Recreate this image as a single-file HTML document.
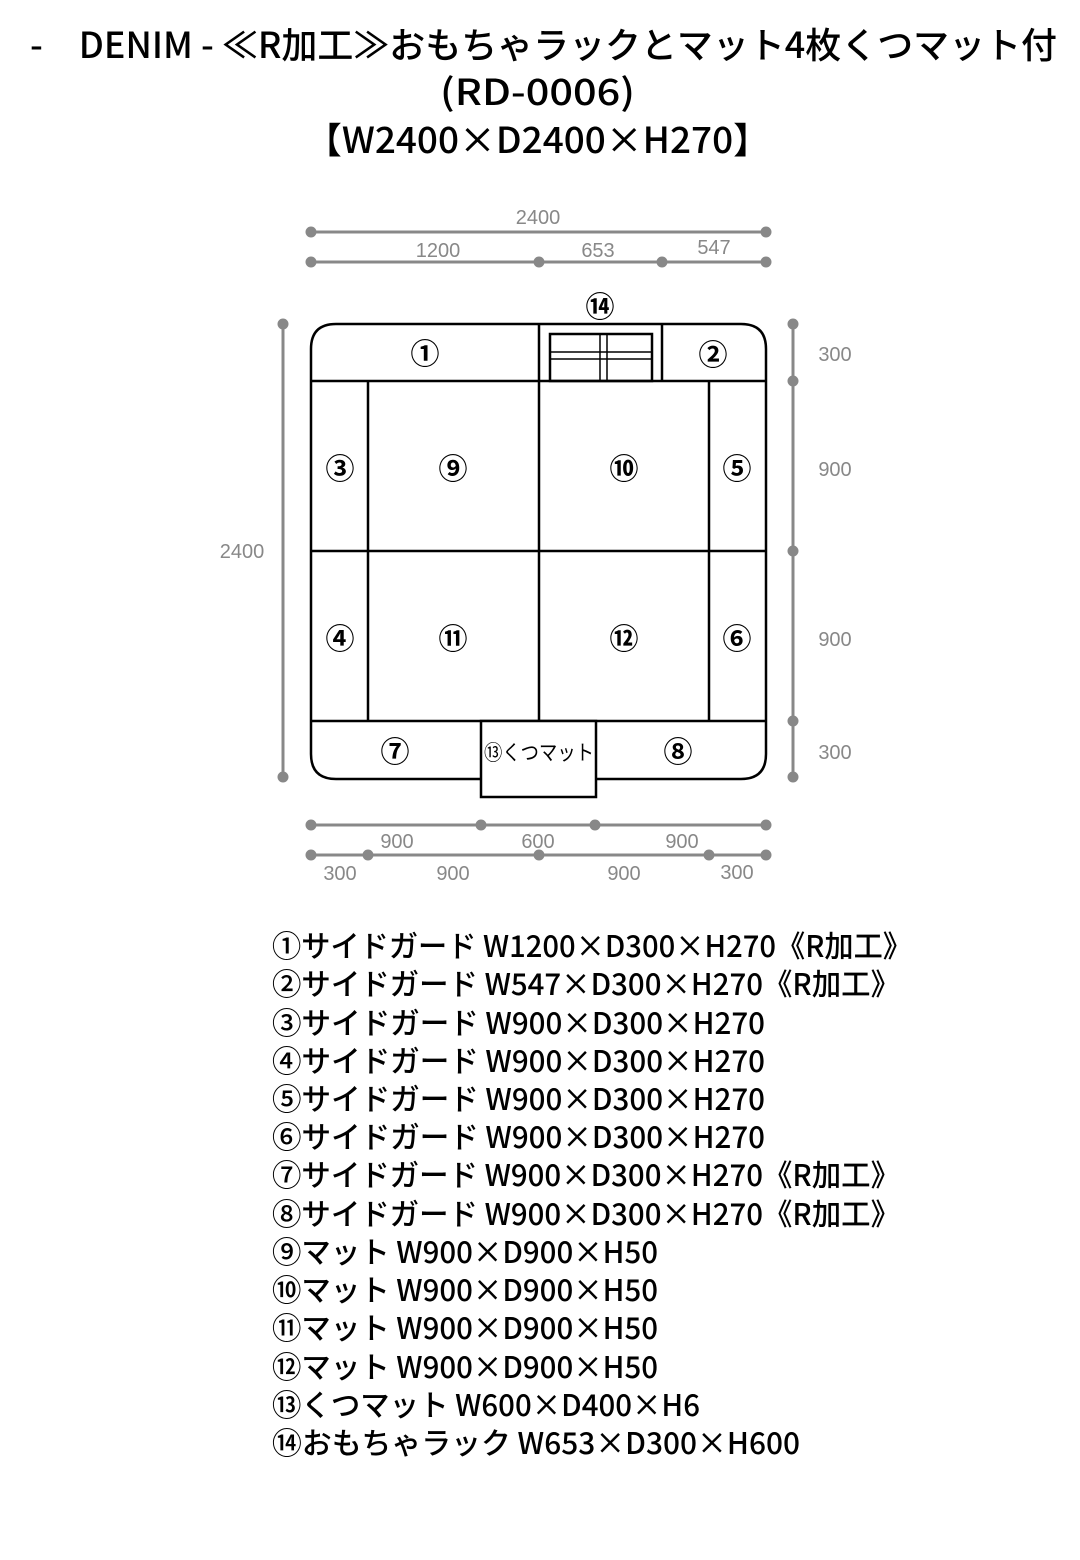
<!DOCTYPE html>
<html><head><meta charset="utf-8"><style>
html,body{margin:0;padding:0;background:#fff}
svg{display:block}
.t{font-family:"Noto Sans CJK JP","Liberation Sans",sans-serif;fill:#000}
.d{font-family:"Liberation Sans",sans-serif;fill:#888;font-size:20px}
.n{font-family:"Noto Sans CJK JP","Liberation Sans",sans-serif;fill:#000;font-size:29px;font-weight:bold;text-anchor:middle}
</style></head><body>
<svg width="1080" height="1560" viewBox="0 0 1080 1560" xmlns="http://www.w3.org/2000/svg">
<text class="t" x="30" y="58" font-size="36" font-weight="500" textLength="1027" lengthAdjust="spacingAndGlyphs">-　DENIM - ≪R加工≫おもちゃラックとマット4枚くつマット付</text>
<text class="t" x="440" y="105" font-size="36" font-weight="500" textLength="195" lengthAdjust="spacingAndGlyphs">(RD-0006)</text>
<text class="t" x="305" y="153" font-size="36" font-weight="500" textLength="465" lengthAdjust="spacingAndGlyphs">【W2400×D2400×H270】</text>

<g stroke="#888" stroke-width="3" fill="#888">
<line x1="311" y1="232" x2="766" y2="232"/><circle cx="311" cy="232" r="4"/><circle cx="766" cy="232" r="4"/>
<line x1="311" y1="262" x2="766" y2="262"/><circle cx="311" cy="262" r="4"/><circle cx="539" cy="262" r="4"/><circle cx="662" cy="262" r="4"/><circle cx="766" cy="262" r="4"/>
<line x1="283" y1="324" x2="283" y2="777"/><circle cx="283" cy="324" r="4"/><circle cx="283" cy="777" r="4"/>
<line x1="793" y1="324" x2="793" y2="777"/><circle cx="793" cy="324" r="4"/><circle cx="793" cy="381" r="4"/><circle cx="793" cy="551" r="4"/><circle cx="793" cy="721" r="4"/><circle cx="793" cy="777" r="4"/>
<line x1="311" y1="825" x2="766" y2="825"/><circle cx="311" cy="825" r="4"/><circle cx="481" cy="825" r="4"/><circle cx="595" cy="825" r="4"/><circle cx="766" cy="825" r="4"/>
<line x1="311" y1="855" x2="766" y2="855"/><circle cx="311" cy="855" r="4"/><circle cx="368" cy="855" r="4"/><circle cx="539" cy="855" r="4"/><circle cx="709" cy="855" r="4"/><circle cx="766" cy="855" r="4"/>
</g>
<g stroke="none">
<text class="d" x="538" y="224" text-anchor="middle">2400</text>
<text class="d" x="438" y="257" text-anchor="middle">1200</text>
<text class="d" x="598" y="257" text-anchor="middle">653</text>
<text class="d" x="714" y="254" text-anchor="middle">547</text>
<text class="d" x="242" y="558" text-anchor="middle">2400</text>
<text class="d" x="835" y="361" text-anchor="middle">300</text>
<text class="d" x="835" y="476" text-anchor="middle">900</text>
<text class="d" x="835" y="646" text-anchor="middle">900</text>
<text class="d" x="835" y="759" text-anchor="middle">300</text>
<text class="d" x="397" y="848" text-anchor="middle">900</text>
<text class="d" x="538" y="848" text-anchor="middle">600</text>
<text class="d" x="682" y="848" text-anchor="middle">900</text>
<text class="d" x="340" y="880" text-anchor="middle">300</text>
<text class="d" x="453" y="880" text-anchor="middle">900</text>
<text class="d" x="624" y="880" text-anchor="middle">900</text>
<text class="d" x="737" y="879" text-anchor="middle">300</text>
</g>

<g stroke="#000" stroke-width="2.5" fill="none">
<path d="M311 381 L311 349 Q311 324 336 324 L741 324 Q766 324 766 349 L766 754 Q766 779 741 779 L336 779 Q311 779 311 754 Z" fill="#fff"/>
<line x1="311" y1="381" x2="766" y2="381"/>
<line x1="311" y1="721" x2="766" y2="721"/>
<line x1="311" y1="551" x2="766" y2="551"/>
<line x1="368" y1="381" x2="368" y2="721"/>
<line x1="539" y1="324" x2="539" y2="721"/>
<line x1="709" y1="381" x2="709" y2="721"/>
<line x1="662" y1="324" x2="662" y2="381"/>
<rect x="550" y="334" width="102" height="47"/>
<line x1="600" y1="334" x2="600" y2="381" stroke-width="1.5"/>
<line x1="607" y1="334" x2="607" y2="381" stroke-width="1.5"/>
<line x1="550" y1="352" x2="652" y2="352" stroke-width="1.5"/>
<line x1="550" y1="359" x2="652" y2="359" stroke-width="1.5"/>
<rect x="481" y="721" width="115" height="76" fill="#fff"/>
</g>
<text class="n" x="600" y="317">⑭</text>
<text class="n" x="425" y="364">①</text>
<text class="n" x="713" y="365">②</text>
<text class="n" x="340" y="479">③</text>
<text class="n" x="453" y="479">⑨</text>
<text class="n" x="624" y="479">⑩</text>
<text class="n" x="737" y="479">⑤</text>
<text class="n" x="340" y="649">④</text>
<text class="n" x="453" y="649">⑪</text>
<text class="n" x="624" y="649">⑫</text>
<text class="n" x="737" y="649">⑥</text>
<text class="n" x="395" y="762">⑦</text>
<text class="n" x="678" y="762">⑧</text>
<text class="t" x="484" y="760" font-size="21" textLength="110" lengthAdjust="spacingAndGlyphs">⑬くつマット</text>

<g class="t" font-size="30" font-weight="500">
<text x="272" y="957" textLength="640" lengthAdjust="spacingAndGlyphs">①サイドガード W1200×D300×H270《R加工》</text>
<text x="272" y="995" textLength="628" lengthAdjust="spacingAndGlyphs">②サイドガード W547×D300×H270《R加工》</text>
<text x="272" y="1034" textLength="493" lengthAdjust="spacingAndGlyphs">③サイドガード W900×D300×H270</text>
<text x="272" y="1072" textLength="493" lengthAdjust="spacingAndGlyphs">④サイドガード W900×D300×H270</text>
<text x="272" y="1110" textLength="493" lengthAdjust="spacingAndGlyphs">⑤サイドガード W900×D300×H270</text>
<text x="272" y="1148" textLength="493" lengthAdjust="spacingAndGlyphs">⑥サイドガード W900×D300×H270</text>
<text x="272" y="1186" textLength="628" lengthAdjust="spacingAndGlyphs">⑦サイドガード W900×D300×H270《R加工》</text>
<text x="272" y="1225" textLength="628" lengthAdjust="spacingAndGlyphs">⑧サイドガード W900×D300×H270《R加工》</text>
<text x="272" y="1263" textLength="386" lengthAdjust="spacingAndGlyphs">⑨マット W900×D900×H50</text>
<text x="272" y="1301" textLength="386" lengthAdjust="spacingAndGlyphs">⑩マット W900×D900×H50</text>
<text x="272" y="1339" textLength="386" lengthAdjust="spacingAndGlyphs">⑪マット W900×D900×H50</text>
<text x="272" y="1378" textLength="386" lengthAdjust="spacingAndGlyphs">⑫マット W900×D900×H50</text>
<text x="272" y="1416" textLength="428" lengthAdjust="spacingAndGlyphs">⑬くつマット W600×D400×H6</text>
<text x="272" y="1454" textLength="528" lengthAdjust="spacingAndGlyphs">⑭おもちゃラック W653×D300×H600</text>
</g>
</svg>
</body></html>
